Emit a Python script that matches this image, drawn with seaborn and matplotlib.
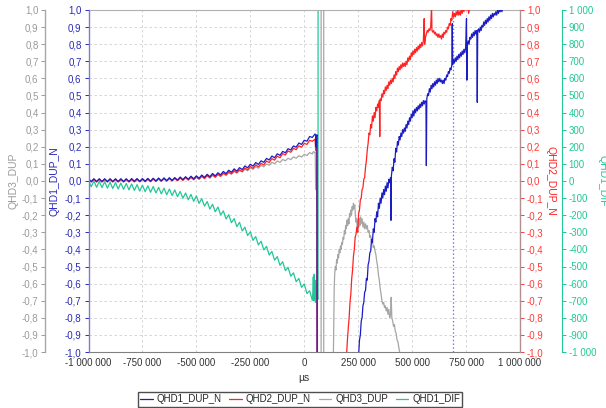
import numpy as np
import pandas as pd
import matplotlib
matplotlib.use("Agg")
import matplotlib.pyplot as plt
from matplotlib.ticker import FixedLocator, FuncFormatter
import seaborn as sns

# ---------------- data ----------------
# pre-event sampling grid in k-µs (-1000 .. 37.5, step 12.5)
pre_x_k = np.arange(-1000.0, 40.0, 12.5)

blue_pre = [0.013, -0.003, 0.013, -0.003, 0.013, -0.003, 0.013, -0.003,
            0.013, -0.003, 0.013, -0.003, 0.013, -0.003, 0.013, -0.003,
            0.014, -0.002, 0.014, -0.002, 0.014, -0.001, 0.015, -0.001,
            0.016, 0.000, 0.017, 0.001, 0.018, 0.002, 0.019, 0.003,
            0.020, 0.005, 0.023, 0.008, 0.025, 0.010, 0.028, 0.013,
            0.030, 0.016, 0.035, 0.021, 0.039, 0.025, 0.044, 0.030,
            0.048, 0.036, 0.056, 0.043, 0.063, 0.051, 0.071, 0.058,
            0.078, 0.067, 0.088, 0.077, 0.098, 0.087, 0.108, 0.097,
            0.118, 0.109, 0.132, 0.123, 0.146, 0.136, 0.159, 0.150,
            0.173, 0.165, 0.189, 0.181, 0.205, 0.198, 0.222, 0.214,
            0.238, 0.233, 0.260, 0.255]
red_pre = [0.010, -0.005, 0.010, -0.005, 0.010, -0.005, 0.010, -0.005,
           0.010, -0.005, 0.010, -0.005, 0.010, -0.005, 0.010, -0.005,
           0.011, -0.004, 0.011, -0.004, 0.011, -0.004, 0.012, -0.003,
           0.013, -0.002, 0.014, -0.001, 0.015, 0.000, 0.016, 0.001,
           0.016, 0.002, 0.019, 0.004, 0.021, 0.006, 0.023, 0.008,
           0.025, 0.011, 0.029, 0.015, 0.033, 0.019, 0.037, 0.023,
           0.040, 0.028, 0.047, 0.035, 0.054, 0.042, 0.061, 0.049,
           0.066, 0.055, 0.076, 0.065, 0.085, 0.074, 0.094, 0.083,
           0.103, 0.094, 0.117, 0.108, 0.131, 0.122, 0.145, 0.136,
           0.160, 0.152, 0.176, 0.168, 0.191, 0.183, 0.206, 0.198,
           0.220, 0.214, 0.238, 0.232]
gray_pre = [0.006, -0.006, 0.006, -0.006, 0.006, -0.006, 0.006, -0.006,
            0.006, -0.006, 0.006, -0.006, 0.006, -0.006, 0.006, -0.006,
            0.006, -0.006, 0.007, -0.005, 0.008, -0.004, 0.008, -0.004,
            0.009, -0.002, 0.010, -0.001, 0.011, 0.000, 0.013, 0.001,
            0.014, 0.003, 0.016, 0.004, 0.018, 0.006, 0.019, 0.007,
            0.021, 0.011, 0.025, 0.014, 0.029, 0.017, 0.032, 0.021,
            0.036, 0.027, 0.042, 0.033, 0.048, 0.040, 0.055, 0.046,
            0.061, 0.053, 0.069, 0.060, 0.076, 0.068, 0.084, 0.075,
            0.091, 0.083, 0.100, 0.092, 0.109, 0.101, 0.117, 0.109,
            0.126, 0.118, 0.133, 0.125, 0.141, 0.133, 0.148, 0.140,
            0.156, 0.149, 0.166, 0.158]
green_pre = [3, -34, 1, -37, -2, -39, -4, -42,
             -7, -44, -9, -47, -12, -49, -14, -52,
             -17, -55, -21, -59, -24, -62, -28, -66,
             -32, -70, -37, -75, -42, -80, -47, -85,
             -52, -92, -61, -101, -70, -110, -78, -119,
             -87, -131, -103, -147, -120, -164, -136, -180,
             -152, -199, -175, -222, -197, -244, -220, -267,
             -242, -292, -270, -319, -297, -347, -325, -374,
             -352, -403, -382, -433, -412, -463, -442, -493,
             -472, -524, -505, -557, -537, -589, -570, -622,
             -602, -658, -642, -698]

# post-event samples (x in k-µs, value)
blue_post = [(50, 0.275), (53, 0.27), (55, 0.20), (57, 0.26), (59, 0.27), (62, -5), (248, -5),
    (252, -1.02), (256, -0.93), (260, -0.90), (264, -0.82), (268, -0.80), (272, -0.73), (276, -0.71),
    (280, -0.65), (284, -0.64), (288, -0.57), (292, -0.58), (296, -0.49), (300, -0.47), (304, -0.42),
    (308, -0.41), (312, -0.34), (316, -0.36), (320, -0.28), (324, -0.30), (328, -0.22), (332, -0.24),
    (336, -0.18), (340, -0.21), (344, -0.13), (348, -0.16), (352, -0.10), (356, -0.13), (360, -0.07),
    (364, -0.10), (368, -0.05), (372, -0.08), (376, -0.03), (380, -0.06), (384, -0.01), (388, -0.04),
    (392, 0.01), (396, -0.01), (400, 0.02), (402, -0.23), (404, 0.03), (408, 0.08), (412, 0.06),
    (416, 0.13), (420, 0.11), (424, 0.19), (428, 0.17), (432, 0.23), (436, 0.21), (440, 0.26),
    (444, 0.24), (448, 0.28), (452, 0.26), (456, 0.30), (460, 0.28), (464, 0.31), (468, 0.29),
    (472, 0.33), (476, 0.31), (480, 0.35), (484, 0.33), (488, 0.37), (492, 0.35), (496, 0.39),
    (500, 0.37), (504, 0.41), (508, 0.38), (512, 0.42), (516, 0.40), (520, 0.43), (524, 0.41),
    (528, 0.44), (532, 0.42), (536, 0.45), (540, 0.43), (544, 0.46), (548, 0.44), (552, 0.47),
    (556, 0.45), (560, 0.47), (564, 0.46), (566, 0.09), (568, 0.48), (572, 0.51), (576, 0.50),
    (580, 0.54), (584, 0.52), (588, 0.56), (592, 0.54), (596, 0.57), (600, 0.55), (604, 0.58),
    (608, 0.56), (612, 0.59), (616, 0.57), (620, 0.60), (624, 0.58), (628, 0.60), (632, 0.58),
    (636, 0.59), (640, 0.57), (644, 0.59), (648, 0.57), (652, 0.60), (656, 0.59), (660, 0.62),
    (664, 0.61), (668, 0.64), (672, 0.63), (676, 0.66), (680, 0.65), (684, 0.68), (686, 0.92),
    (688, 0.68), (692, 0.71), (696, 0.69), (700, 0.72), (704, 0.70), (708, 0.73), (712, 0.71),
    (716, 0.74), (720, 0.72), (724, 0.75), (728, 0.73), (732, 0.76), (736, 0.74), (740, 0.77),
    (744, 0.75), (748, 0.78), (752, 0.95), (754, 0.59), (756, 0.79), (760, 0.82), (764, 0.80),
    (768, 0.84), (772, 0.83), (776, 0.86), (780, 0.84), (784, 0.87), (788, 0.85), (792, 0.88),
    (796, 0.86), (800, 0.88), (802, 0.46), (804, 0.88), (808, 0.89), (812, 0.87), (816, 0.90),
    (820, 0.88), (824, 0.91), (828, 0.90), (832, 0.93), (836, 0.91), (840, 0.94), (844, 0.92),
    (848, 0.95), (852, 0.93), (856, 0.96), (860, 0.94), (864, 0.97), (868, 0.95), (872, 0.98),
    (876, 0.96), (880, 0.98), (884, 0.97), (888, 0.99), (892, 0.97), (896, 1.00), (900, 0.98),
    (904, 1.00), (908, 0.99), (912, 1.01), (916, 0.99), (920, 1.01), (930, 1.03), (960, 1.08),
    (1000, 1.12)]

red_post = [(50, 0.245), (53, 0.18), (55, 0.24), (58, 0.25), (62, -5), (192, -5),
    (196, -1.02), (200, -0.93), (204, -0.86), (208, -0.80), (212, -0.71), (216, -0.66), (220, -0.57),
    (224, -0.52), (228, -0.44), (232, -0.40), (236, -0.33), (240, -0.31), (244, -0.27), (248, -0.30),
    (252, -0.19), (256, -0.17), (260, -0.11), (264, -0.10), (268, -0.05), (272, -0.04), (276, 0.01),
    (280, 0.02), (284, 0.08), (288, 0.12), (292, 0.18), (296, 0.22), (300, 0.28), (304, 0.27),
    (308, 0.33), (312, 0.31), (316, 0.38), (320, 0.35), (324, 0.40), (328, 0.37), (332, 0.43),
    (336, 0.41), (340, 0.45), (344, 0.43), (348, 0.47), (350, 0.26), (352, 0.48), (356, 0.47),
    (360, 0.51), (364, 0.49), (368, 0.53), (372, 0.51), (376, 0.55), (380, 0.53), (384, 0.56),
    (388, 0.54), (392, 0.58), (396, 0.56), (400, 0.59), (404, 0.57), (408, 0.60), (412, 0.58),
    (416, 0.62), (420, 0.60), (424, 0.64), (428, 0.62), (432, 0.66), (436, 0.64), (440, 0.67),
    (444, 0.65), (448, 0.68), (452, 0.66), (456, 0.69), (460, 0.67), (464, 0.69), (468, 0.67),
    (472, 0.70), (476, 0.68), (480, 0.72), (484, 0.70), (488, 0.73), (492, 0.71), (496, 0.75),
    (500, 0.73), (504, 0.76), (508, 0.74), (512, 0.77), (516, 0.75), (520, 0.78), (524, 0.76),
    (528, 0.79), (532, 0.77), (536, 0.80), (540, 0.78), (544, 0.81), (548, 0.79), (552, 0.82),
    (556, 0.95), (558, 0.80), (562, 0.84), (566, 0.86), (570, 0.88), (574, 0.87), (578, 0.89),
    (582, 0.88), (586, 0.90), (590, 1.02), (592, 0.88), (596, 0.87), (600, 0.88), (604, 0.86),
    (608, 0.87), (612, 0.85), (616, 0.86), (620, 0.84), (624, 0.86), (628, 0.84), (632, 0.85),
    (636, 0.83), (640, 0.86), (644, 0.84), (648, 0.87), (652, 0.86), (656, 0.88), (660, 0.87),
    (664, 0.90), (668, 0.89), (672, 0.92), (676, 0.91), (680, 0.95), (684, 0.94), (688, 0.99),
    (692, 0.96), (696, 0.98), (700, 0.96), (704, 0.99), (708, 0.97), (712, 1.00), (716, 0.97),
    (720, 0.99), (724, 0.97), (728, 1.01), (732, 0.98), (736, 1.02), (740, 0.99), (744, 1.03),
    (750, 1.00), (756, 1.04), (762, 0.98), (768, 1.03), (780, 1.06), (820, 1.10), (1000, 1.20)]

gray_post = [(40, 0.168), (44, 0.172), (48, 0.165), (51, 0.17), (53, -0.05), (55, 0.0), (57, 0.06),
    (59, 0.10), (61, 0.12), (62, -5), (78, -5), (78.5, 5), (90, 5), (90.5, -5), (132, -5),
    (135, -1.02), (137, -0.80), (139, -0.62), (141, -0.55), (144, -0.50), (147, -0.52), (150, -0.46),
    (153, -0.48), (156, -0.43), (159, -0.45), (162, -0.40), (165, -0.42), (168, -0.38), (171, -0.40),
    (174, -0.36), (177, -0.37), (180, -0.33), (183, -0.34), (186, -0.29), (189, -0.31), (192, -0.26),
    (195, -0.28), (198, -0.23), (201, -0.26), (204, -0.22), (207, -0.25), (210, -0.19), (213, -0.21),
    (216, -0.17), (219, -0.20), (222, -0.15), (225, -0.17), (228, -0.13), (231, -0.16), (234, -0.14),
    (237, -0.20), (240, -0.24), (243, -0.22), (246, -0.28), (249, -0.23), (252, -0.27), (255, -0.22),
    (258, -0.26), (261, -0.21), (264, -0.25), (268, -0.22), (272, -0.27), (276, -0.24), (280, -0.28),
    (284, -0.25), (288, -0.28), (292, -0.26), (296, -0.30), (300, -0.29), (304, -0.33), (308, -0.32),
    (312, -0.36), (316, -0.35), (320, -0.39), (324, -0.38), (328, -0.41), (332, -0.43), (336, -0.47),
    (340, -0.50), (344, -0.55), (348, -0.58), (352, -0.63), (356, -0.66), (360, -0.70), (364, -0.72),
    (368, -0.71), (372, -0.74), (376, -0.73), (380, -0.76), (384, -0.74), (388, -0.78), (392, -0.75),
    (396, -0.80), (400, -0.78), (403, -0.68), (406, -0.80), (410, -0.82), (414, -0.85), (418, -0.84),
    (422, -0.88), (426, -0.89), (430, -0.93), (434, -0.94), (438, -0.97), (442, -1.0), (446, -1.05)]

green_post = [(40, -650), (42, -560), (44, -700), (46, -545), (48, -690), (50, -580), (52, -710),
    (54, -600), (56, -690), (58, -650), (60, -680), (64, -690), (64.3, 5000)]

series_names = ["QHD1_DUP_N", "QHD2_DUP_N", "QHD3_DUP", "QHD1_DIF"]
series_colors = ["#1c1cc4", "#ff2222", "#a6a6a6", "#22c797"]
cursor_x = 688000
x_ticks = [-1000000, -750000, -500000, -250000, 0, 250000, 500000, 750000, 1000000]
y_ticks = [round(v / 10, 1) for v in range(-10, 11)]
dif_ticks = list(range(-1000, 1001, 100))


def build(pre, post):
    xs = list(pre_x_k * 1000) + [p[0] * 1000 for p in post]
    ys = list(pre) + [p[1] for p in post]
    return pd.DataFrame({"t": xs, "v": ys})


df_blue = build(blue_pre, blue_post)
df_red = build(red_pre, red_post)
df_gray = build(gray_pre, gray_post)
df_green = build(green_pre, green_post)

# ---------------- style ----------------
sns.set_style("white")
plt.rcParams["font.family"] = ["Liberation Sans", "DejaVu Sans"]

W, H = 606, 408
fig = plt.figure(figsize=(W / 100, H / 100), dpi=100)
L, R, T, B = 88.5, 520, 10, 352
ax_base = fig.add_axes([L / W, (H - B) / H, (R - L) / W, (B - T) / H])
ax_base.set_zorder(1)
ax_main = ax_base.twinx()
ax_main.set_zorder(2)
ax_gray = ax_base.twinx()
ax_gray.set_zorder(3)
ax_red = ax_base.twinx()
ax_red.set_zorder(3)
for a in (ax_main, ax_gray, ax_red):
    a.patch.set_visible(False)

tick_fs = 7
lw = 0.9

# green on base axis
sns.lineplot(data=df_green, x="t", y="v", ax=ax_base, color=series_colors[3], lw=lw,
             estimator=None, sort=False, label=series_names[3])
# gray, red, blue on the main twin
sns.lineplot(data=df_gray, x="t", y="v", ax=ax_main, color=series_colors[2], lw=lw,
             estimator=None, sort=False, label=series_names[2])
sns.lineplot(data=df_red, x="t", y="v", ax=ax_main, color=series_colors[1], lw=lw,
             estimator=None, sort=False, label=series_names[1])
sns.lineplot(data=df_blue, x="t", y="v", ax=ax_main, color=series_colors[0], lw=lw,
             estimator=None, sort=False, label=series_names[0])
ax_main.axvline(cursor_x, color="#6f6fff", lw=0.9, ls=(0, (1.2, 1.8)), zorder=1)

for a in (ax_base, ax_main):
    if a.get_legend() is not None:
        a.get_legend().remove()

ax_base.set_xlim(-1000000, 1000000)
ax_base.set_ylim(-1000, 1000)
for a in (ax_main, ax_gray, ax_red):
    a.set_ylim(-1.0, 1.0)

# x axis
ax_base.xaxis.set_major_locator(FixedLocator(x_ticks))
ax_base.xaxis.set_major_formatter(FuncFormatter(lambda v, p: f"{int(round(v)):,}".replace(",", " ")))
ax_base.tick_params(axis="x", labelsize=tick_fs, colors="#333333", length=0, pad=4)
ax_base.set_xlabel("µs", fontsize=7.5, color="#333333", labelpad=4)


def dec_fmt(v, p):
    s = f"{v:.1f}"
    if s == "-0.0":
        s = "0.0"
    return s.replace(".", ",")


# green (base) y axis on right, outward
ax_base.yaxis.set_major_locator(FixedLocator(dif_ticks))
ax_base.yaxis.set_major_formatter(FuncFormatter(lambda v, p: f"{int(round(v)):,}".replace(",", " ")))
ax_base.yaxis.tick_right()
ax_base.yaxis.set_label_position("right")
ax_base.spines["right"].set_position(("outward", 30))
ax_base.spines["right"].set_color(series_colors[3])
ax_base.spines["left"].set_visible(False)
ax_base.spines["top"].set_color("#b0b0b0")
ax_base.spines["bottom"].set_color("#808080")
for s in ("top", "bottom", "right"):
    ax_base.spines[s].set_linewidth(0.8)
ax_base.tick_params(axis="y", labelsize=tick_fs, colors=series_colors[3], length=3, width=0.7, pad=2)
ax_base.set_ylabel("QHD1_DIF", color=series_colors[3], fontsize=7.5, rotation=270, labelpad=1, va="bottom")
ax_base.grid(True, color="#d0d0d0", lw=0.6, ls=(0, (3, 3)))
ax_base.set_axisbelow(True)

# blue main axis on left
ax_main.yaxis.tick_left()
ax_main.yaxis.set_label_position("left")
ax_main.yaxis.set_major_locator(FixedLocator(y_ticks))
ax_main.yaxis.set_major_formatter(FuncFormatter(dec_fmt))
for s in ("top", "bottom", "right"):
    ax_main.spines[s].set_visible(False)
ax_main.spines["left"].set_visible(True)
ax_main.spines["left"].set_color("#7b7bd6")
ax_main.spines["left"].set_linewidth(1.0)
ax_main.tick_params(axis="y", labelsize=tick_fs, colors="#2a2ab8", length=3, width=0.7, pad=2)
ax_main.set_ylabel("QHD1_DUP_N", color="#2a2ab8", fontsize=7.5, labelpad=4)

# gray axis on far left
ax_gray.yaxis.tick_left()
ax_gray.yaxis.set_label_position("left")
ax_gray.yaxis.set_major_locator(FixedLocator(y_ticks))
ax_gray.yaxis.set_major_formatter(FuncFormatter(dec_fmt))
for s in ("top", "bottom", "right"):
    ax_gray.spines[s].set_visible(False)
ax_gray.spines["left"].set_visible(True)
ax_gray.spines["left"].set_position(("outward", 31))
ax_gray.spines["left"].set_color("#a8a8a8")
ax_gray.spines["left"].set_linewidth(1.0)
ax_gray.tick_params(axis="y", labelsize=tick_fs, colors="#9a9a9a", length=3, width=0.7, pad=2)
ax_gray.set_ylabel("QHD3_DUP", color="#9a9a9a", fontsize=7.5, labelpad=2)

# red axis on right
ax_red.yaxis.set_major_locator(FixedLocator(y_ticks))
ax_red.yaxis.set_major_formatter(FuncFormatter(dec_fmt))
for s in ("top", "bottom", "left"):
    ax_red.spines[s].set_visible(False)
ax_red.spines["right"].set_color("#b09090")
ax_red.spines["right"].set_linewidth(1.0)
ax_red.tick_params(axis="y", labelsize=tick_fs, colors="#ff3b3b", length=3, width=0.7, pad=2)
ax_red.set_ylabel("QHD2_DUP_N", color="#ff2222", fontsize=7.5, rotation=270, labelpad=1, va="bottom")

for a in (ax_main, ax_gray, ax_red):
    a.set_xlabel("")

# legend
h_main, l_main = ax_main.get_legend_handles_labels()
h_base, l_base = ax_base.get_legend_handles_labels()
hmap = dict(zip(l_main + l_base, h_main + h_base))
handles = [hmap[n] for n in series_names]
leg = fig.legend(handles, series_names, loc="lower center", bbox_to_anchor=(300 / W, 0.003),
                 ncol=4, frameon=True, fancybox=False, edgecolor="#222222", fontsize=7,
                 handlelength=1.3, handletextpad=0.4, columnspacing=0.8, borderpad=0.25,
                 borderaxespad=0.0)
leg.get_frame().set_linewidth(1.0)

fig.savefig("out.png", dpi=100)
